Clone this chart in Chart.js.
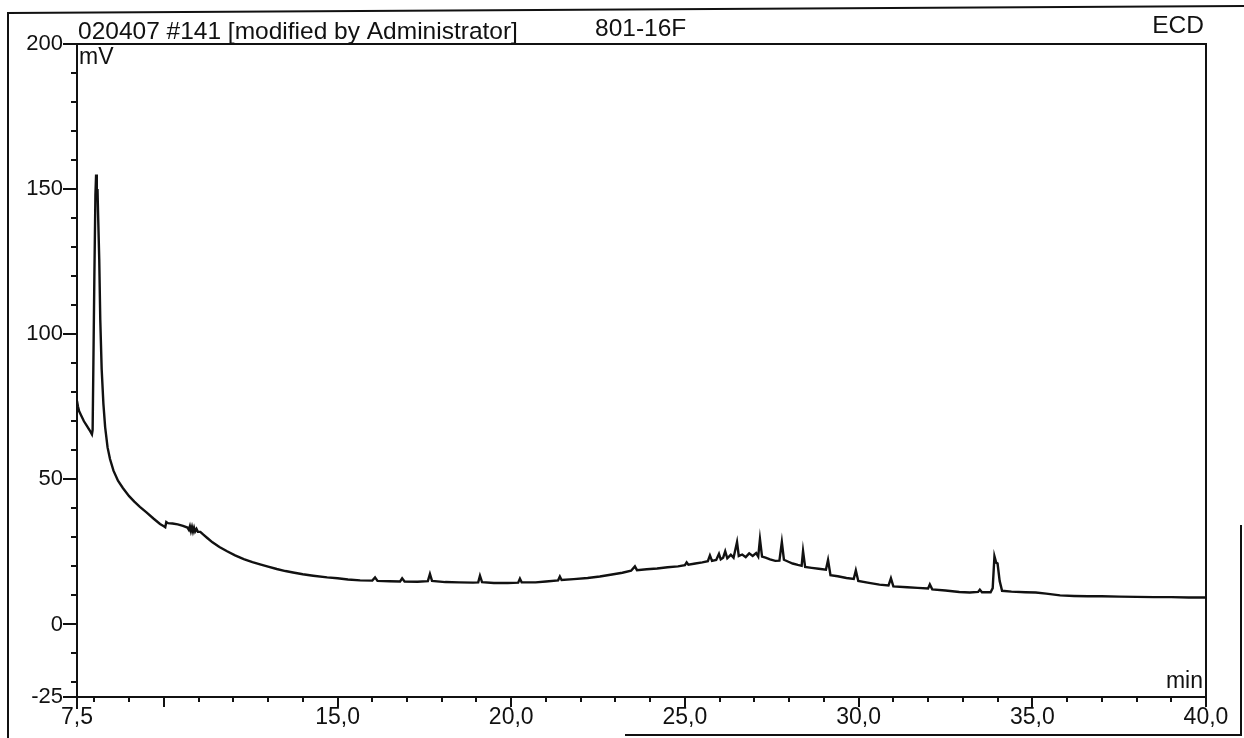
<!DOCTYPE html>
<html><head><meta charset="utf-8">
<script src="https://cdn.jsdelivr.net/npm/chart.js@4/dist/chart.umd.min.js"></script>
<style>html,body{margin:0;padding:0;background:#fff;overflow:hidden}#wrap{width:1244px;height:738px;position:relative}</style>
</head><body><div id="wrap"><canvas id="c" width="1244" height="738"></canvas></div>
<script>
// ---- text ----
const titleLeft = "020407 #141 [modified by Administrator]";
const titleMid = "801-16F";
const titleRight = "ECD";
const yUnit = "mV";
const xUnit = "min";
// ---- tick labels ----
const xTickLabels = [7.5, 15, 20, 25, 30, 35, 40];
const yTickLabels = [-25, 0, 50, 100, 150, 200];
// ---- series: retention time (min) ----
const timeMin = [
 7.50,7.53,7.56,7.62,7.70,7.78,7.86,7.93,7.95,7.97,8.00,8.03,8.05,8.07,8.09,8.11,8.14,8.17,8.21,8.26,
 8.31,8.38,8.45,8.55,8.68,8.82,9.00,9.15,9.31,9.50,9.70,9.89,10.00,10.04,10.07,10.12,10.25,10.40,10.55,10.68,
 10.72,10.75,10.78,10.81,10.84,10.87,10.90,10.94,10.98,11.05,11.13,11.25,11.40,11.60,11.82,12.05,12.30,12.55,12.77,13.00,
 13.25,13.50,13.72,14.00,14.30,14.70,15.00,15.30,15.65,16.00,16.08,16.15,16.50,16.80,16.86,16.93,17.30,17.60,17.66,17.72,
 18.10,18.50,18.90,19.05,19.10,19.16,19.50,19.90,20.20,20.25,20.30,20.70,21.00,21.35,21.40,21.45,21.80,22.20,22.55,22.90,
 23.20,23.45,23.56,23.62,23.90,24.20,24.50,24.80,25.00,25.05,25.10,25.30,25.50,25.66,25.72,25.78,25.90,25.98,26.03,26.10,
 26.16,26.22,26.32,26.40,26.50,26.55,26.65,26.75,26.85,26.95,27.05,27.11,27.16,27.22,27.32,27.45,27.60,27.72,27.79,27.85,
 27.98,28.10,28.25,28.36,28.40,28.46,28.65,28.85,29.06,29.12,29.19,29.40,29.65,29.86,29.92,29.99,30.30,30.60,30.86,30.93,
 31.00,31.40,31.70,32.00,32.05,32.12,32.50,32.90,33.20,33.44,33.49,33.55,33.80,33.86,33.91,33.96,34.00,34.06,34.13,34.40,
 34.80,35.10,35.40,35.80,36.20,36.60,37.00,37.50,38.00,38.50,39.00,39.50,40.00
];
// ---- series: detector signal (mV) ----
const signalMv = [
 77,75,73.5,72,70,68.5,67,65.5,67,88,120,148,155,147,150,140,126,105,88,76,
 68,61,57,53,49.5,47,44.2,42.3,40.5,38.6,36.5,34.6,33.8,33.5,35.3,34.9,34.8,34.5,34.0,33.4,
 32.6,33.8,32.2,33.6,32.0,33.3,32.0,32.9,31.9,31.9,31.0,29.8,28.3,26.7,25.2,23.8,22.5,21.5,20.7,19.9,
 19.1,18.4,17.9,17.3,16.8,16.2,15.9,15.5,15.2,15.1,16.2,15.0,14.9,14.8,15.9,14.8,14.7,14.9,17.4,15.0,
 14.6,14.5,14.4,14.5,16.8,14.6,14.3,14.3,14.4,15.8,14.5,14.5,14.8,15.2,16.5,15.3,15.6,16.0,16.5,17.2,
 17.8,18.5,20.0,18.7,19.0,19.3,19.7,20.0,20.4,21.4,20.6,21.0,21.4,21.8,23.8,21.9,22.2,24.3,22.4,23.0,
 25.2,22.8,24.0,23.0,28.4,23.6,24.1,23.2,24.5,23.6,24.6,23.4,29.4,23.4,23.0,22.4,21.9,22.0,28.4,22.3,
 21.6,21.0,20.5,20.2,25.3,19.8,19.5,19.2,18.9,22.2,17.0,16.6,16.0,15.7,18.6,15.0,14.3,13.7,13.4,15.9,
 13.1,12.8,12.6,12.4,13.8,12.1,11.7,11.2,11.0,11.2,12.0,11.1,11.1,12.5,23.5,21.3,21.0,15.0,11.6,11.3,
 11.1,11.0,10.6,10.0,9.8,9.7,9.7,9.6,9.5,9.4,9.4,9.3,9.3
];

const FONT = "'Liberation Sans', Arial, sans-serif";
const INK = "#111";

const decor = {
  id: 'decor',
  afterDraw(chart) {
    const ctx = chart.ctx;
    const {left, right, top, bottom} = chart.chartArea;
    const xs = chart.scales.x, ys = chart.scales.y;
    ctx.save();
    ctx.strokeStyle = INK;
    ctx.lineWidth = 2;
    ctx.lineCap = 'butt';
    // plot box top + right
    ctx.beginPath();
    ctx.moveTo(left - 1, top); ctx.lineTo(right, top); ctx.lineTo(right, bottom + 1);
    ctx.stroke();
    // y ticks
    ctx.beginPath();
    for (let v = -20; v <= 200; v += 10) {
      const y = Math.round(ys.getPixelForValue(v));
      const len = (v % 50 === 0) ? 14 : 6;
      ctx.moveTo(left - len, y); ctx.lineTo(left, y);
    }
    const yb = Math.round(ys.getPixelForValue(-25));
    ctx.moveTo(left - 14, yb); ctx.lineTo(left, yb);
    // x ticks
    for (let v = 8; v <= 40; v += 1) {
      const x = Math.round(xs.getPixelForValue(v));
      const len = (v % 5 === 0) ? 10 : 5;
      ctx.moveTo(x, bottom); ctx.lineTo(x, bottom + len);
    }
    const x0 = Math.round(xs.getPixelForValue(7.5));
    ctx.moveTo(x0, bottom); ctx.lineTo(x0, bottom + 12);
    ctx.stroke();
    // outer frame (scanned page border)
    ctx.lineWidth = 2;
    ctx.beginPath();
    ctx.moveTo(8, 738); ctx.lineTo(8, 13); ctx.lineTo(1244, 6);
    ctx.moveTo(1241, 525); ctx.lineTo(1241, 735); ctx.lineTo(625, 735);
    ctx.stroke();
    // header texts
    ctx.fillStyle = INK;
    ctx.textBaseline = 'alphabetic';
    ctx.font = "24.5px " + FONT;
    ctx.textAlign = 'left';
    ctx.fillText(titleLeft, 78, 39);
    ctx.fillText(titleMid, 595, 36);
    ctx.textAlign = 'right';
    ctx.fillText(titleRight, 1204, 33);
    // units
    ctx.font = "23px " + FONT;
    ctx.textAlign = 'left';
    ctx.fillText(yUnit, 79, 64);
    ctx.textAlign = 'right';
    ctx.fillText(xUnit, 1203, 688);
    ctx.restore();
  }
};

new Chart(document.getElementById('c'), {
  type: 'line',
  data: {
    datasets: [{
      data: timeMin.map((t, i) => ({x: t, y: signalMv[i]})),
      borderColor: INK,
      borderWidth: 2.4,
      pointRadius: 0,
      tension: 0,
      fill: false
    }]
  },
  options: {
    responsive: false,
    animation: false,
    layout: {padding: {left: 0, top: 44, right: 38, bottom: 0}},
    plugins: {legend: {display: false}, tooltip: {enabled: false}, title: {display: false}},
    scales: {
      x: {
        type: 'linear', min: 7.5, max: 40,
        afterBuildTicks: s => { s.ticks = xTickLabels.map(v => ({value: v})); },
        afterFit: s => { s.height = 41; },
        grid: {display: false, drawTicks: false},
        border: {display: true, color: INK, width: 2},
        ticks: {
          autoSkip: false, maxRotation: 0, padding: 7, color: INK,
          font: {family: FONT, size: 23},
          callback: v => Number(v).toFixed(1).replace('.', ',')
        }
      },
      y: {
        type: 'linear', min: -25, max: 200,
        afterBuildTicks: s => { s.ticks = yTickLabels.map(v => ({value: v})); },
        afterFit: s => { s.width = 77; },
        grid: {display: false, drawTicks: false},
        border: {display: true, color: INK, width: 2},
        ticks: {
          autoSkip: false, padding: 14, color: INK,
          font: {family: FONT, size: 22},
          callback: v => String(v)
        }
      }
    }
  },
  plugins: [decor]
});
</script></body></html>
